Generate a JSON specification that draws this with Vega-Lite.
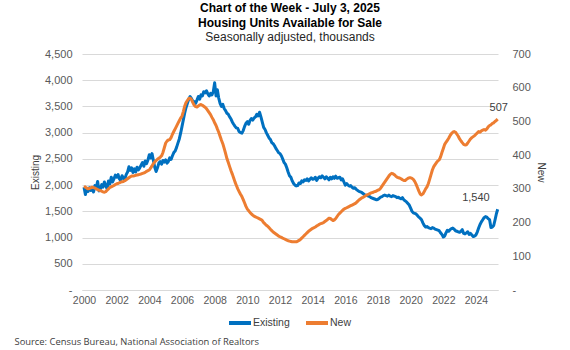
{
"$schema": "https://vega.github.io/schema/vega-lite/v6.json",
"width": 416,
"height": 236,
"autosize": {"type": "none"},
"padding": {"left": 82, "top": 54, "right": 72, "bottom": 60},
"background": "white",
"config": {"view": {"stroke": null}, "font": "Liberation Sans"},
"title": {
  "text": ["Chart of the Week - July 3, 2025", "Housing Units Available for Sale"],
  "subtitle": "Seasonally adjusted, thousands",
  "anchor": "middle",
  "font": "Liberation Sans", "fontSize": 12, "fontWeight": "bold", "color": "#000000", "lineHeight": 15.5,
  "subtitleFont": "Liberation Sans", "subtitleFontSize": 12, "subtitleColor": "#262626", "subtitleLineHeight": 15.5, "subtitlePadding": 2,
  "offset": 4
},
"datasets": {"housing": [
{"date":"2000-01-01","existing":1960,"new":308},{"date":"2000-02-01","existing":1820,"new":305},{"date":"2000-03-01","existing":1930,"new":302},{"date":"2000-04-01","existing":1880,"new":300},{"date":"2000-05-01","existing":1950,"new":301},{"date":"2000-06-01","existing":1900,"new":303},{"date":"2000-07-01","existing":1920,"new":305},{"date":"2000-08-01","existing":1870,"new":304},{"date":"2000-09-01","existing":1990,"new":302},{"date":"2000-10-01","existing":1950,"new":300},{"date":"2000-11-01","existing":2070,"new":298},{"date":"2000-12-01","existing":1890,"new":296},
{"date":"2001-01-01","existing":1930,"new":295},{"date":"2001-02-01","existing":2010,"new":293},{"date":"2001-03-01","existing":1960,"new":291},{"date":"2001-04-01","existing":2060,"new":290},{"date":"2001-05-01","existing":1990,"new":292},{"date":"2001-06-01","existing":1930,"new":296},{"date":"2001-07-01","existing":2080,"new":300},{"date":"2001-08-01","existing":2020,"new":304},{"date":"2001-09-01","existing":2150,"new":306},{"date":"2001-10-01","existing":2060,"new":308},{"date":"2001-11-01","existing":2120,"new":310},{"date":"2001-12-01","existing":2190,"new":313},
{"date":"2002-01-01","existing":2150,"new":315},{"date":"2002-02-01","existing":2200,"new":316},{"date":"2002-03-01","existing":2120,"new":318},{"date":"2002-04-01","existing":2090,"new":320},{"date":"2002-05-01","existing":2180,"new":321},{"date":"2002-06-01","existing":2130,"new":322},{"date":"2002-07-01","existing":2110,"new":324},{"date":"2002-08-01","existing":2200,"new":327},{"date":"2002-09-01","existing":2250,"new":330},{"date":"2002-10-01","existing":2350,"new":333},{"date":"2002-11-01","existing":2280,"new":336},{"date":"2002-12-01","existing":2330,"new":338},
{"date":"2003-01-01","existing":2240,"new":338},{"date":"2003-02-01","existing":2310,"new":339},{"date":"2003-03-01","existing":2250,"new":340},{"date":"2003-04-01","existing":2340,"new":341},{"date":"2003-05-01","existing":2290,"new":342},{"date":"2003-06-01","existing":2330,"new":343},{"date":"2003-07-01","existing":2380,"new":344},{"date":"2003-08-01","existing":2430,"new":346},{"date":"2003-09-01","existing":2360,"new":347},{"date":"2003-10-01","existing":2460,"new":349},{"date":"2003-11-01","existing":2410,"new":352},{"date":"2003-12-01","existing":2480,"new":354},
{"date":"2004-01-01","existing":2580,"new":356},{"date":"2004-02-01","existing":2520,"new":362},{"date":"2004-03-01","existing":2600,"new":368},{"date":"2004-04-01","existing":2470,"new":375},{"date":"2004-05-01","existing":2340,"new":380},{"date":"2004-06-01","existing":2260,"new":384},{"date":"2004-07-01","existing":2330,"new":388},{"date":"2004-08-01","existing":2420,"new":391},{"date":"2004-09-01","existing":2450,"new":394},{"date":"2004-10-01","existing":2400,"new":398},{"date":"2004-11-01","existing":2470,"new":408},{"date":"2004-12-01","existing":2440,"new":422},
{"date":"2005-01-01","existing":2480,"new":436},{"date":"2005-02-01","existing":2420,"new":442},{"date":"2005-03-01","existing":2450,"new":445},{"date":"2005-04-01","existing":2520,"new":446},{"date":"2005-05-01","existing":2490,"new":452},{"date":"2005-06-01","existing":2560,"new":462},{"date":"2005-07-01","existing":2620,"new":470},{"date":"2005-08-01","existing":2650,"new":478},{"date":"2005-09-01","existing":2720,"new":486},{"date":"2005-10-01","existing":2800,"new":494},{"date":"2005-11-01","existing":2880,"new":502},{"date":"2005-12-01","existing":2990,"new":510},
{"date":"2006-01-01","existing":3120,"new":516},{"date":"2006-02-01","existing":3250,"new":530},{"date":"2006-03-01","existing":3370,"new":545},{"date":"2006-04-01","existing":3480,"new":556},{"date":"2006-05-01","existing":3560,"new":562},{"date":"2006-06-01","existing":3640,"new":568},{"date":"2006-07-01","existing":3690,"new":569},{"date":"2006-08-01","existing":3650,"new":565},{"date":"2006-09-01","existing":3600,"new":556},{"date":"2006-10-01","existing":3590,"new":548},{"date":"2006-11-01","existing":3560,"new":544},{"date":"2006-12-01","existing":3620,"new":543},
{"date":"2007-01-01","existing":3690,"new":546},{"date":"2007-02-01","existing":3640,"new":549},{"date":"2007-03-01","existing":3720,"new":550},{"date":"2007-04-01","existing":3700,"new":548},{"date":"2007-05-01","existing":3780,"new":545},{"date":"2007-06-01","existing":3760,"new":542},{"date":"2007-07-01","existing":3800,"new":538},{"date":"2007-08-01","existing":3740,"new":532},{"date":"2007-09-01","existing":3700,"new":526},{"date":"2007-10-01","existing":3750,"new":520},{"date":"2007-11-01","existing":3720,"new":512},{"date":"2007-12-01","existing":3780,"new":505},
{"date":"2008-01-01","existing":3950,"new":496},{"date":"2008-02-01","existing":3700,"new":488},{"date":"2008-03-01","existing":3820,"new":478},{"date":"2008-04-01","existing":3660,"new":468},{"date":"2008-05-01","existing":3560,"new":456},{"date":"2008-06-01","existing":3500,"new":444},{"date":"2008-07-01","existing":3540,"new":434},{"date":"2008-08-01","existing":3460,"new":420},{"date":"2008-09-01","existing":3420,"new":405},{"date":"2008-10-01","existing":3370,"new":390},{"date":"2008-11-01","existing":3350,"new":378},{"date":"2008-12-01","existing":3300,"new":366},
{"date":"2009-01-01","existing":3260,"new":354},{"date":"2009-02-01","existing":3200,"new":343},{"date":"2009-03-01","existing":3160,"new":332},{"date":"2009-04-01","existing":3120,"new":320},{"date":"2009-05-01","existing":3090,"new":310},{"date":"2009-06-01","existing":3080,"new":300},{"date":"2009-07-01","existing":3020,"new":292},{"date":"2009-08-01","existing":3000,"new":284},{"date":"2009-09-01","existing":2990,"new":277},{"date":"2009-10-01","existing":3040,"new":268},{"date":"2009-11-01","existing":3120,"new":258},{"date":"2009-12-01","existing":3180,"new":248},
{"date":"2010-01-01","existing":3210,"new":240},{"date":"2010-02-01","existing":3160,"new":235},{"date":"2010-03-01","existing":3230,"new":230},{"date":"2010-04-01","existing":3270,"new":226},{"date":"2010-05-01","existing":3240,"new":222},{"date":"2010-06-01","existing":3280,"new":219},{"date":"2010-07-01","existing":3300,"new":217},{"date":"2010-08-01","existing":3350,"new":215},{"date":"2010-09-01","existing":3320,"new":213},{"date":"2010-10-01","existing":3390,"new":211},{"date":"2010-11-01","existing":3300,"new":209},{"date":"2010-12-01","existing":3200,"new":206},
{"date":"2011-01-01","existing":3100,"new":200},{"date":"2011-02-01","existing":3060,"new":196},{"date":"2011-03-01","existing":3000,"new":192},{"date":"2011-04-01","existing":2950,"new":189},{"date":"2011-05-01","existing":2900,"new":185},{"date":"2011-06-01","existing":2870,"new":180},{"date":"2011-07-01","existing":2810,"new":176},{"date":"2011-08-01","existing":2790,"new":172},{"date":"2011-09-01","existing":2750,"new":169},{"date":"2011-10-01","existing":2700,"new":166},{"date":"2011-11-01","existing":2660,"new":163},{"date":"2011-12-01","existing":2620,"new":160},
{"date":"2012-01-01","existing":2600,"new":158},{"date":"2012-02-01","existing":2560,"new":156},{"date":"2012-03-01","existing":2500,"new":154},{"date":"2012-04-01","existing":2430,"new":152},{"date":"2012-05-01","existing":2400,"new":150},{"date":"2012-06-01","existing":2330,"new":148},{"date":"2012-07-01","existing":2250,"new":146},{"date":"2012-08-01","existing":2180,"new":145},{"date":"2012-09-01","existing":2150,"new":144},{"date":"2012-10-01","existing":2080,"new":143},{"date":"2012-11-01","existing":2030,"new":143},{"date":"2012-12-01","existing":2000,"new":143},
{"date":"2013-01-01","existing":1985,"new":143},{"date":"2013-02-01","existing":1990,"new":145},{"date":"2013-03-01","existing":2040,"new":147},{"date":"2013-04-01","existing":2030,"new":150},{"date":"2013-05-01","existing":2080,"new":154},{"date":"2013-06-01","existing":2060,"new":158},{"date":"2013-07-01","existing":2100,"new":162},{"date":"2013-08-01","existing":2090,"new":166},{"date":"2013-09-01","existing":2120,"new":170},{"date":"2013-10-01","existing":2080,"new":174},{"date":"2013-11-01","existing":2110,"new":177},{"date":"2013-12-01","existing":2140,"new":180},
{"date":"2014-01-01","existing":2110,"new":183},{"date":"2014-02-01","existing":2120,"new":185},{"date":"2014-03-01","existing":2150,"new":187},{"date":"2014-04-01","existing":2090,"new":190},{"date":"2014-05-01","existing":2130,"new":192},{"date":"2014-06-01","existing":2160,"new":195},{"date":"2014-07-01","existing":2140,"new":197},{"date":"2014-08-01","existing":2175,"new":198},{"date":"2014-09-01","existing":2150,"new":200},{"date":"2014-10-01","existing":2120,"new":203},{"date":"2014-11-01","existing":2160,"new":206},{"date":"2014-12-01","existing":2130,"new":209},
{"date":"2015-01-01","existing":2100,"new":213},{"date":"2015-02-01","existing":2150,"new":212},{"date":"2015-03-01","existing":2120,"new":209},{"date":"2015-04-01","existing":2160,"new":206},{"date":"2015-05-01","existing":2130,"new":208},{"date":"2015-06-01","existing":2170,"new":212},{"date":"2015-07-01","existing":2130,"new":218},{"date":"2015-08-01","existing":2140,"new":224},{"date":"2015-09-01","existing":2150,"new":228},{"date":"2015-10-01","existing":2100,"new":232},{"date":"2015-11-01","existing":2120,"new":236},{"date":"2015-12-01","existing":2060,"new":240},
{"date":"2016-01-01","existing":2000,"new":242},{"date":"2016-02-01","existing":2030,"new":244},{"date":"2016-03-01","existing":2000,"new":246},{"date":"2016-04-01","existing":1980,"new":248},{"date":"2016-05-01","existing":1990,"new":250},{"date":"2016-06-01","existing":1960,"new":252},{"date":"2016-07-01","existing":1940,"new":254},{"date":"2016-08-01","existing":1950,"new":256},{"date":"2016-09-01","existing":1920,"new":259},{"date":"2016-10-01","existing":1900,"new":263},{"date":"2016-11-01","existing":1880,"new":267},{"date":"2016-12-01","existing":1870,"new":270},
{"date":"2017-01-01","existing":1860,"new":273},{"date":"2017-02-01","existing":1840,"new":275},{"date":"2017-03-01","existing":1820,"new":277},{"date":"2017-04-01","existing":1810,"new":280},{"date":"2017-05-01","existing":1800,"new":282},{"date":"2017-06-01","existing":1790,"new":284},{"date":"2017-07-01","existing":1780,"new":286},{"date":"2017-08-01","existing":1760,"new":288},{"date":"2017-09-01","existing":1750,"new":289},{"date":"2017-10-01","existing":1740,"new":291},{"date":"2017-11-01","existing":1730,"new":292},{"date":"2017-12-01","existing":1720,"new":294},
{"date":"2018-01-01","existing":1730,"new":296},{"date":"2018-02-01","existing":1750,"new":298},{"date":"2018-03-01","existing":1770,"new":302},{"date":"2018-04-01","existing":1780,"new":308},{"date":"2018-05-01","existing":1800,"new":314},{"date":"2018-06-01","existing":1810,"new":320},{"date":"2018-07-01","existing":1800,"new":326},{"date":"2018-08-01","existing":1790,"new":332},{"date":"2018-09-01","existing":1810,"new":338},{"date":"2018-10-01","existing":1790,"new":343},{"date":"2018-11-01","existing":1780,"new":346},{"date":"2018-12-01","existing":1800,"new":345},
{"date":"2019-01-01","existing":1790,"new":342},{"date":"2019-02-01","existing":1780,"new":338},{"date":"2019-03-01","existing":1760,"new":335},{"date":"2019-04-01","existing":1770,"new":333},{"date":"2019-05-01","existing":1750,"new":332},{"date":"2019-06-01","existing":1740,"new":330},{"date":"2019-07-01","existing":1760,"new":327},{"date":"2019-08-01","existing":1720,"new":325},{"date":"2019-09-01","existing":1700,"new":325},{"date":"2019-10-01","existing":1680,"new":328},{"date":"2019-11-01","existing":1650,"new":331},{"date":"2019-12-01","existing":1620,"new":333},
{"date":"2020-01-01","existing":1560,"new":333},{"date":"2020-02-01","existing":1500,"new":331},{"date":"2020-03-01","existing":1470,"new":328},{"date":"2020-04-01","existing":1460,"new":322},{"date":"2020-05-01","existing":1450,"new":314},{"date":"2020-06-01","existing":1420,"new":304},{"date":"2020-07-01","existing":1390,"new":294},{"date":"2020-08-01","existing":1370,"new":285},{"date":"2020-09-01","existing":1340,"new":282},{"date":"2020-10-01","existing":1280,"new":285},{"date":"2020-11-01","existing":1230,"new":292},{"date":"2020-12-01","existing":1200,"new":300},
{"date":"2021-01-01","existing":1210,"new":306},{"date":"2021-02-01","existing":1190,"new":316},{"date":"2021-03-01","existing":1180,"new":328},{"date":"2021-04-01","existing":1170,"new":342},{"date":"2021-05-01","existing":1190,"new":356},{"date":"2021-06-01","existing":1180,"new":366},{"date":"2021-07-01","existing":1160,"new":372},{"date":"2021-08-01","existing":1150,"new":378},{"date":"2021-09-01","existing":1140,"new":383},{"date":"2021-10-01","existing":1130,"new":386},{"date":"2021-11-01","existing":1090,"new":395},{"date":"2021-12-01","existing":1060,"new":408},
{"date":"2022-01-01","existing":1010,"new":420},{"date":"2022-02-01","existing":1030,"new":432},{"date":"2022-03-01","existing":1090,"new":438},{"date":"2022-04-01","existing":1140,"new":444},{"date":"2022-05-01","existing":1120,"new":450},{"date":"2022-06-01","existing":1150,"new":458},{"date":"2022-07-01","existing":1170,"new":464},{"date":"2022-08-01","existing":1180,"new":468},{"date":"2022-09-01","existing":1160,"new":470},{"date":"2022-10-01","existing":1130,"new":468},{"date":"2022-11-01","existing":1120,"new":462},{"date":"2022-12-01","existing":1110,"new":456},
{"date":"2023-01-01","existing":1100,"new":448},{"date":"2023-02-01","existing":1120,"new":442},{"date":"2023-03-01","existing":1150,"new":437},{"date":"2023-04-01","existing":1080,"new":432},{"date":"2023-05-01","existing":1070,"new":430},{"date":"2023-06-01","existing":1090,"new":431},{"date":"2023-07-01","existing":1110,"new":436},{"date":"2023-08-01","existing":1060,"new":442},{"date":"2023-09-01","existing":1080,"new":448},{"date":"2023-10-01","existing":1050,"new":452},{"date":"2023-11-01","existing":1020,"new":455},{"date":"2023-12-01","existing":1030,"new":458},
{"date":"2024-01-01","existing":1050,"new":462},{"date":"2024-02-01","existing":1110,"new":466},{"date":"2024-03-01","existing":1180,"new":470},{"date":"2024-04-01","existing":1250,"new":468},{"date":"2024-05-01","existing":1300,"new":472},{"date":"2024-06-01","existing":1340,"new":474},{"date":"2024-07-01","existing":1380,"new":476},{"date":"2024-08-01","existing":1400,"new":474},{"date":"2024-09-01","existing":1390,"new":478},{"date":"2024-10-01","existing":1360,"new":484},{"date":"2024-11-01","existing":1340,"new":488},{"date":"2024-12-01","existing":1190,"new":490},
{"date":"2025-01-01","existing":1200,"new":494},{"date":"2025-02-01","existing":1230,"new":496},{"date":"2025-03-01","existing":1330,"new":500},{"date":"2025-04-01","existing":1450,"new":503},{"date":"2025-05-01","existing":1540,"new":507}
]},
"encoding": {
  "x": {"field": "date", "type": "temporal",
    "scale": {"type": "utc", "domain": [{"year": 1999, "month": 11, "date": 17, "utc": true}, {"year": 2025, "month": 5, "date": 8, "utc": true}]},
    "axis": {"format": "%Y", "tickCount": {"interval": "year", "step": 2}, "grid": false, "ticks": false,
      "domain": true, "domainColor": "#D9D9D9", "domainWidth": 1,
      "labelFont": "Liberation Sans", "labelFontSize": 10.5, "labelColor": "#595959", "labelPadding": 5, "labelFlush": false,
      "title": "Source: Census Bureau, National Association of Realtors",
      "titleAnchor": "start", "titleAlign": "left", "titleBaseline": "middle", "titleX": -68, "titleY": 51,
      "titleFont": "Open Sans", "titleFontSize": 9.4, "titleFontWeight": "normal", "titleColor": "#404040"}}
},
"layer": [
  {"encoding": {
     "y": {"field": "existing", "type": "quantitative",
       "scale": {"domain": [0, 4500], "nice": false},
       "axis": {"title": "Existing", "values": [0,500,1000,1500,2000,2500,3000,3500,4000,4500], "labelOverlap": false,
         "labelExpr": "datum.value == 0 ? '-' : format(datum.value, ',')",
         "grid": true, "gridColor": "#D9D9D9", "gridWidth": 1, "domain": false, "ticks": false,
         "labelFont": "Liberation Sans", "labelFontSize": 11, "labelColor": "#595959", "labelPadding": 10,
         "titleFont": "Liberation Sans", "titleFontSize": 10, "titleFontWeight": "normal", "titleColor": "#404040", "titlePadding": 4}}},
   "layer": [
    {"data": {"name": "housing"},
     "mark": {"type": "line", "strokeWidth": 3, "strokeJoin": "round", "clip": false},
     "encoding": {
       "color": {"datum": "Existing", "type": "nominal",
         "scale": {"domain": ["Existing", "New"], "range": ["#0070C0", "#ED7D31"]},
         "legend": {"title": null, "orient": "none", "legendX": 145, "legendY": 256, "direction": "horizontal",
           "symbolType": "stroke", "symbolSize": 484, "symbolStrokeWidth": 4,
           "labelFont": "Liberation Sans", "labelFontSize": 10.5, "labelColor": "#404040", "labelOffset": 0, "columnPadding": 8}}
     }},
    {"data": {"values": [{"date": "2025-05-01", "existing": 1540}]},
     "mark": {"type": "text", "align": "right", "baseline": "middle", "dx": -8, "dy": -11, "font": "Liberation Sans", "fontSize": 11, "color": "#404040"},
     "encoding": {
       "text": {"field": "existing", "type": "quantitative", "format": ","}
     }}
  ]},
  {"encoding": {
     "y": {"field": "new", "type": "quantitative",
       "scale": {"domain": [0, 700], "nice": false},
       "axis": {"orient": "right", "title": "New", "values": [0,100,200,300,400,500,600,700], "labelOverlap": false,
         "labelExpr": "datum.value == 0 ? '-' : format(datum.value, ',')",
         "grid": false, "domain": false, "ticks": false,
         "labelFont": "Liberation Sans", "labelFontSize": 11, "labelColor": "#595959", "labelPadding": 14,
         "titleFont": "Liberation Sans", "titleFontSize": 10, "titleFontWeight": "normal", "titleColor": "#404040", "titlePadding": 5}}},
   "layer": [
    {"data": {"name": "housing"},
     "mark": {"type": "line", "strokeWidth": 3, "strokeJoin": "round", "clip": false},
     "encoding": {
       "color": {"datum": "New", "type": "nominal"}
     }},
    {"data": {"values": [{"date": "2025-05-01", "new": 507}]},
     "mark": {"type": "text", "align": "center", "baseline": "middle", "dx": 1, "dy": -11, "font": "Liberation Sans", "fontSize": 11, "color": "#404040"},
     "encoding": {
       "text": {"field": "new", "type": "quantitative", "format": ","}
     }}
  ]}
],
"resolve": {"scale": {"y": "independent"}}
}
